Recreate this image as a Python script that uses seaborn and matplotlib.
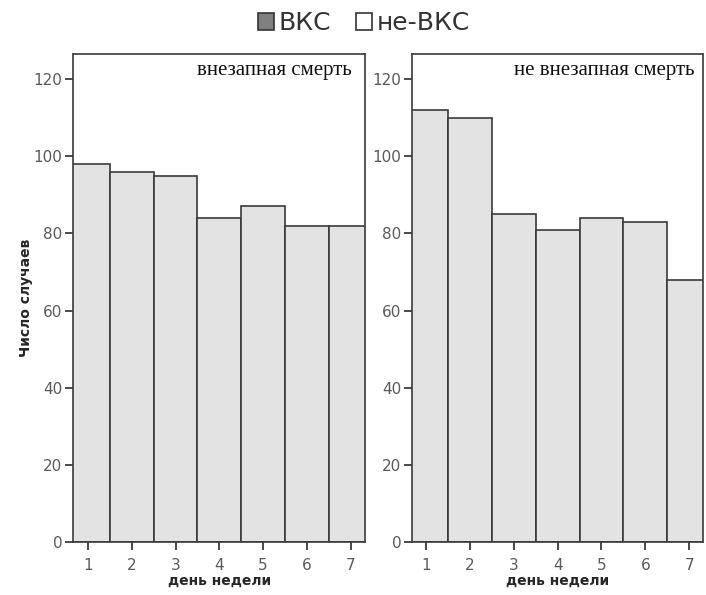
import matplotlib
matplotlib.use("Agg")
import matplotlib.pyplot as plt
from matplotlib.patches import Patch
import seaborn as sns
import pandas as pd

days = [1, 2, 3, 4, 5, 6, 7]
sudden_counts = [98, 96, 95, 84, 87, 82, 82]
nonsudden_counts = [112, 110, 85, 81, 84, 83, 68]
panel_titles = ["внезапная смерть", "не внезапная смерть"]
legend_labels = ["ВКС", "не-ВКС"]
y_ticks = [0, 20, 40, 60, 80, 100, 120]
x_label = "день недели"
y_label = "Число случаев"

sns.set_style("white")
plt.rcParams['font.family'] = ['DejaVu Sans']

fig = plt.figure(figsize=(7.06, 5.95), dpi=100)
ax1 = fig.add_axes([0.1038, 0.0886, 0.4138, 0.8207])
ax2 = fig.add_axes([0.5840, 0.0886, 0.4122, 0.8207])

bar_fill = "#e3e3e3"
edge = "#3a3a3a"
tick_col = "#5a5a5a"

xlims = [(0.66, 7.34), (0.69, 7.32)]
title_x = [0.952, 0.97]
for ax, counts, title, xl, tx in zip([ax1, ax2], [sudden_counts, nonsudden_counts],
                                     panel_titles, xlims, title_x):
    df = pd.DataFrame({"day": days, "count": counts})
    sns.histplot(data=df, x="day", weights="count", discrete=True, ax=ax,
                 color=bar_fill, edgecolor=edge, linewidth=1.2, alpha=1)
    ax.set_xlim(*xl)
    ax.set_ylim(0, 126.5)
    ax.set_yticks(y_ticks)
    ax.set_xticks(days)
    ax.tick_params(axis="both", which="major", direction="out", length=6, width=1.3,
                   color=edge, labelsize=11, labelcolor=tick_col, pad=2,
                   bottom=True, left=True, top=False, right=False)
    ax.tick_params(axis="x", pad=5)
    for s in ax.spines.values():
        s.set_color(edge)
        s.set_linewidth(1.2)
    ax.set_xlabel(x_label, fontsize=10, fontweight="bold", labelpad=1)
    ax.set_ylabel("")
    ax.text(tx, 0.985, title, transform=ax.transAxes, ha="right", va="top",
            fontsize=15, family=["Liberation Serif"], color="#111111")

ax1.set_ylabel(y_label, fontsize=10, fontweight="bold", labelpad=0)

handles = [Patch(facecolor="#808080", edgecolor="#333333", linewidth=1.2),
           Patch(facecolor="white", edgecolor="#333333", linewidth=1.2)]
fig.legend(handles, legend_labels, loc="center", bbox_to_anchor=(0.516, 0.961),
           ncol=2, frameon=False, fontsize=18, handlelength=0.62, handleheight=0.62,
           handletextpad=0.2, columnspacing=1.0, labelcolor="#333333")

fig.savefig("out.png", dpi=100)
